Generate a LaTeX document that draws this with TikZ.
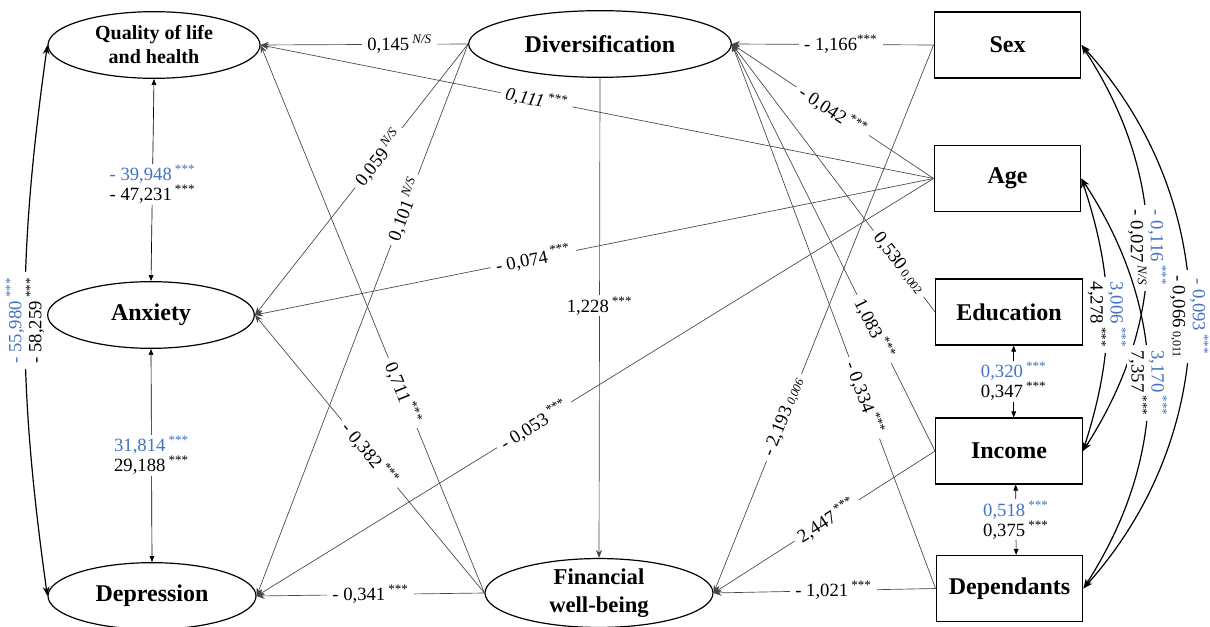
\documentclass[tikz,border=0pt]{standalone}
\usepackage{fontspec}
\setmainfont{Liberation Serif}
\usetikzlibrary{arrows.meta,shapes.geometric}
\definecolor{cornflower}{RGB}{68,114,196}
\definecolor{ink}{RGB}{70,70,70}
\newcommand{\sig}{\textsuperscript{***}}
\newcommand{\nsig}{\textsuperscript{\itshape N/S}}
\newcommand{\pval}[1]{{\fontsize{9}{10}\selectfont #1}}
\newcommand{\covlab}[2]{\textcolor{cornflower}{#1}\\#2}
\tikzset{
  latent/.style={ellipse,draw,line width=0.9pt,inner sep=0pt,minimum width=#1,
    minimum height=50pt,align=center,font=\bfseries\fontsize{18}{20}\selectfont},
  latent/.default=155pt,
  observed/.style={rectangle,draw,line width=0.9pt,minimum width=110pt,
    minimum height=49.5pt,font=\bfseries\fontsize{18}{20}\selectfont},
  reg/.style={draw=ink,line width=0.5pt,-{Stealth[length=6pt,width=4.5pt]}},
  cov/.style={draw=black,line width=0.5pt,
    {Triangle[length=4.5pt,width=3.5pt]}-{Triangle[length=4.5pt,width=3.5pt]}},
  covc/.style={draw=black,line width=0.9pt,
    {Stealth[length=7pt,width=5pt]}-{Stealth[length=7pt,width=5pt]}},
  coef/.style={fill=white,inner xsep=4pt,inner ysep=1pt,
    font=\fontsize{14}{15}\selectfont},
}
\begin{document}
\begin{tikzpicture}[x=0.75pt,y=0.75pt]
  \useasboundingbox (0,0) rectangle (1210,-627);
  % latent variables
  \node[latent=159pt,font=\bfseries\fontsize{15}{18}\selectfont] (qol) at (154,-45) {Quality of life\\and health};
  \node[latent=155pt] (anx) at (151,-315) {Anxiety};
  \node[latent=156pt] (dep) at (152,-596) {Depression};
  \node[latent=197pt] (div) at (600,-44) {Diversification};
  \node[latent=171pt,font=\bfseries\fontsize{17}{21}\selectfont] (fin) at (599,-593) {Financial\\well-being};
  % observed variables
  \node[observed] (sex) at (1007.5,-45) {Sex};
  \node[observed] (age) at (1007.5,-178.5) {Age};
  \node[observed] (edu) at (1009,-312) {Education};
  \node[observed] (inc) at (1009,-451) {Income};
  \node[observed] (dpd) at (1009.5,-588.5) {Dependants};

  % paths to the outcomes
  \draw[reg] (div.west) -- node[coef,sloped,pos=0.33]{0,145\,\nsig} (qol.east);
  \draw[reg] (age.west) -- node[coef,sloped,pos=0.59]{\textit{0,111}\,\sig} (qol.east);
  \draw[reg] (div.west) -- node[coef,sloped,pos=0.42]{0,059\,\nsig} (anx.east);
  \draw[reg] (div.west) -- node[coef,sloped,pos=0.30]{0,101\,\nsig} (dep.east);
  \draw[reg] (age.west) -- node[coef,sloped,pos=0.59]{- 0,074\,\sig} (anx.east);
  \draw[reg] (age.west) -- node[coef,sloped,pos=0.59]{- 0,053\,\sig} (dep.east);
  \draw[reg] (fin.west) -- node[coef,sloped,pos=0.365]{0,711\,\sig} (qol.east);
  \draw[reg] (fin.west) -- node[coef,sloped,pos=0.5]{- 0,382\,\sig} (anx.east);
  \draw[reg] (fin.west) -- node[coef,pos=0.5]{- 0,341\,\sig} (dep.east);
  \draw[reg] (div.south) -- node[coef,pos=0.475]{1,228\,\sig} (fin.north);

  % paths from the controls
  \draw[reg] (sex.west) -- node[coef,pos=0.46]{- 1,166\sig} (div.east);
  \draw[reg] (age.west) -- node[coef,sloped,pos=0.5]{- 0,042\,\sig} (div.east);
  \draw[reg] (edu.west) -- node[coef,sloped,pos=0.18]{0,530\,\pval{0,002}} (div.east);
  \draw[reg] (inc.west) -- node[coef,sloped,pos=0.3]{1,083\,\sig} (div.east);
  \draw[reg] (dpd.west) -- node[coef,sloped,pos=0.35]{- 0,334\,\sig} (div.east);
  \draw[reg] (sex.west) -- node[coef,sloped,pos=0.68]{- 2,193\,\pval{\itshape 0,006}} (fin.east);
  \draw[reg] (inc.west) -- node[coef,sloped,pos=0.49]{2,447\,\sig} (fin.east);
  \draw[reg] (dpd.west) -- node[coef,pos=0.46]{- 1,021\,\sig} (fin.east);

  % covariances
  \draw[cov] (qol.south) -- node[coef,align=center,pos=0.52]{\covlab{- 39,948\,\sig}{- 47,231\,\sig}} (anx.north);
  \draw[cov] (anx.south) -- node[coef,align=center]{\covlab{31,814\,\sig}{29,188\,\sig}} (dep.north);
  \draw[cov] ([xshift=3.5pt]edu.south) -- node[coef,align=center]{\covlab{0,320\,\sig}{0,347\,\sig}} ([xshift=3.5pt]inc.north);
  \draw[cov] ([xshift=5pt]inc.south) -- node[coef,align=center]{\covlab{0,518\,\sig}{0,375\,\sig}} ([xshift=5pt]dpd.north);
  \draw[covc] (qol.west) to[bend right=8] node[coef,rotate=90,align=center]{\covlab{- 55,980\,\sig}{- 58,259\,\sig}} (dep.west);
  \draw[covc] (sex.east) to[bend left=33] node[coef,rotate=-90,align=center]{\covlab{- 0,116\,\sig}{- 0,027\,\nsig}} (inc.east);
  \draw[covc] (sex.east) to[bend left=42] node[coef,rotate=-90,align=center]{\covlab{- 0,093\,\sig}{- 0,066\,\pval{0,011}}} (dpd.east);
  \draw[covc] (age.east) to[bend left=18] node[coef,rotate=-90,align=center]{\covlab{3,006\,\sig}{4,278\,\sig}} (inc.east);
  \draw[covc] (age.east) to[bend left=33] node[coef,rotate=-90,align=center]{\covlab{3,170\,\sig}{7,357\,\sig}} (dpd.east);
\end{tikzpicture}
\end{document}
